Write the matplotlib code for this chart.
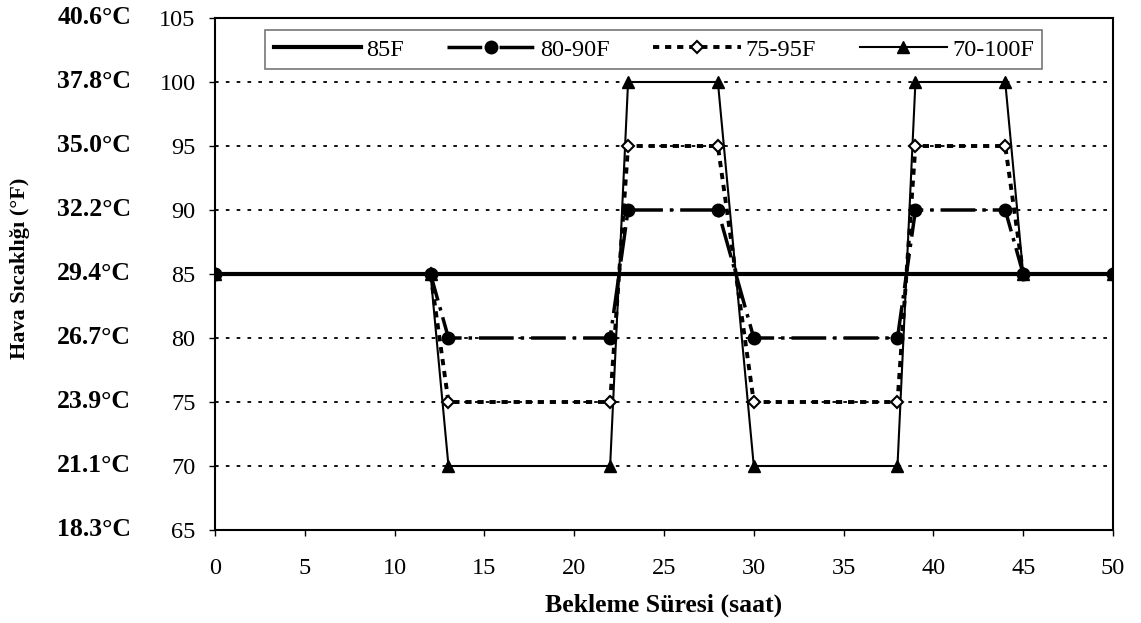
import matplotlib.pyplot as plt
import matplotlib.transforms as mtransforms

plt.rcParams['font.family'] = ['Liberation Serif', 'DejaVu Serif']

# zaman (saat) ve sıcaklık (°F) serileri
hours = [0, 12, 13, 22, 23, 28, 30, 38, 39, 44, 45, 50]
temp_85 = [85, 85, 85, 85, 85, 85, 85, 85, 85, 85, 85, 85]
temp_80_90 = [85, 85, 80, 80, 90, 90, 80, 80, 90, 90, 85, 85]
temp_75_95 = [85, 85, 75, 75, 95, 95, 75, 75, 95, 95, 85, 85]
temp_70_100 = [85, 85, 70, 70, 100, 100, 70, 70, 100, 100, 85, 85]

f_ticks = [65, 70, 75, 80, 85, 90, 95, 100, 105]
c_labels = ['18.3°C', '21.1°C', '23.9°C', '26.7°C', '29.4°C',
            '32.2°C', '35.0°C', '37.8°C', '40.6°C']
x_ticks = [0, 5, 10, 15, 20, 25, 30, 35, 40, 45, 50]

W, H = 1141, 623
fig = plt.figure(figsize=(W / 100, H / 100), dpi=100)
ax = fig.add_axes([215 / W, 1 - 530 / H, (1113 - 215) / W, (530 - 18) / H])

# yatay noktalı kılavuz çizgileri
for y in [70, 75, 80, 90, 95, 100]:
    ax.axhline(y, color='black', linestyle=(0, (2, 4)), linewidth=1.3, zorder=1)

ax.plot(hours, temp_70_100, color='black', linewidth=1.5, marker='^',
        markersize=9, label='70-100F', zorder=3)
ax.plot(hours, temp_75_95, color='black', linewidth=2.8, linestyle=(0, (1.6, 1.5)),
        marker='D', markersize=6, markerfacecolor='white', markeredgewidth=1.5,
        label='75-95F', zorder=4)
ax.plot(hours, temp_80_90, color='black', linewidth=2.5, linestyle=(0, (10, 2, 1, 2)),
        marker='o', markersize=9, label='80-90F', zorder=5)
ax.plot(hours, temp_85, color='black', linewidth=3, label='85F', zorder=6)

ax.set_xlim(0, 50)
ax.set_ylim(65, 105)
ax.set_xticks(x_ticks)
ax.set_yticks(f_ticks)
ax.tick_params(labelsize=17.5, direction='out', length=4, width=1)
ax.tick_params(axis='y', pad=10)
ax.tick_params(axis='x', pad=16)
for s in ax.spines.values():
    s.set_linewidth(1.5)

# Celsius etiketleri
trans = mtransforms.blended_transform_factory(fig.transFigure, ax.transData)
for f, c in zip(f_ticks, c_labels):
    fig.text(131 / W, f, c, transform=trans, ha='right', va='center',
             fontsize=18.5, fontweight='bold')

fig.text(0.5 * (215 + 1113) / W, 1 - 605 / H, 'Bekleme Süresi (saat)',
         ha='center', va='center', fontsize=18.5, fontweight='bold')
fig.text(20 / W, 1 - 268 / H, 'Hava Sıcaklığı (°F)',
         rotation=90, ha='center', va='center', fontsize=16, fontweight='bold')

handles, labels = ax.get_legend_handles_labels()
order = [3, 2, 1, 0]
leg = ax.legend([handles[i] for i in order], [labels[i] for i in order],
                loc='upper left', bbox_to_anchor=((265 - 215) / (1113 - 215), (530 - 30) / (530 - 18)),
                ncol=4, fontsize=17.5, frameon=True, fancybox=False, edgecolor='#555555',
                handlelength=3.6, handletextpad=0.2, columnspacing=1.8,
                borderpad=0.35, borderaxespad=0)
leg.get_frame().set_linewidth(1.2)
leg.set_zorder(10)

plt.savefig('out.png', dpi=100, facecolor='white')
